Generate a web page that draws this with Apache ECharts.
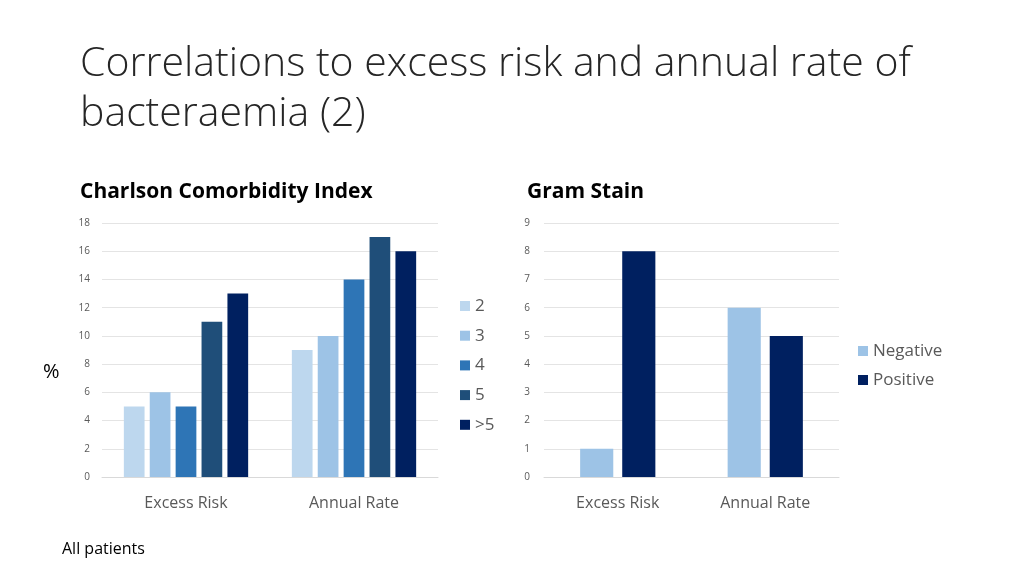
<!DOCTYPE html>
<html>
<head>
<meta charset="utf-8">
<script src="https://cdn.jsdelivr.net/npm/echarts@6/dist/echarts.min.js"></script>
<style>
  html, body { margin: 0; padding: 0; background: #fff; }
  #main { width: 1024px; height: 576px; }
</style>
</head>
<body>
<div id="main"></div>
<script>
var categories = ['Excess Risk', 'Annual Rate'];
var cciNames = ['2', '3', '4', '5', '>5'];
var cci2 = [5, 9];
var cci3 = [6, 10];
var cci4 = [5, 14];
var cci5 = [11, 17];
var cciOver5 = [13, 16];
var gramNames = ['Negative', 'Positive'];
var gramNeg = [1, 6];
var gramPos = [8, 5];

(function(){
    var myChart = echarts.init(document.getElementById('main'));
    var font = '"Open Sans", "Noto Sans", sans-serif';
    var cciColors = ['#BDD7EE', '#9DC3E6', '#2E75B6', '#1F4E79', '#002060'];
    var gramColors = ['#9DC3E6', '#002060'];
    var cciData = [cci2, cci3, cci4, cci5, cciOver5];
    var gramData = [gramNeg, gramPos];

    var series = [];
    cciData.forEach(function(d, i){
        series.push({
            name: cciNames[i], type: 'bar', xAxisIndex: 0, yAxisIndex: 0,
            data: d, barGap: '25%', barCategoryGap: '26%',
            itemStyle: { color: cciColors[i] }
        });
    });
    gramData.forEach(function(d, i){
        series.push({
            name: gramNames[i], type: 'bar', xAxisIndex: 1, yAxisIndex: 1,
            data: d, barGap: '27%', barCategoryGap: '49%',
            itemStyle: { color: gramColors[i] }
        });
    });

    function xAx(gi){
        return {
            type: 'category', gridIndex: gi, data: categories,
            axisTick: { show: false },
            axisLine: { lineStyle: { color: '#D9D9D9' } },
            axisLabel: { color: '#595959', fontSize: 16, fontFamily: font, margin: 18 }
        };
    }
    function yAx(gi, max, margin){
        return {
            type: 'value', gridIndex: gi, min: 0, max: max, interval: gi === 0 ? 2 : 1,
            axisLine: { show: false }, axisTick: { show: false },
            splitLine: { lineStyle: { color: '#E4E4E4' } },
            axisLabel: { color: '#595959', fontSize: 10, fontFamily: font, margin: margin }
        };
    }

    var option = {
        animation: false,
        title: [
            { text: 'Correlations to excess risk and annual rate of\nbacteraemia (2)', left: 75, top: 34,
              textStyle: { fontFamily: font, fontWeight: 300, fontSize: 41, lineHeight: 50, color: '#262626' } },
            { text: 'Charlson Comorbidity Index', left: 75, top: 177,
              textStyle: { fontFamily: font, fontWeight: 'bold', fontSize: 21, color: '#000' } },
            { text: 'Gram Stain', left: 522, top: 177,
              textStyle: { fontFamily: font, fontWeight: 'bold', fontSize: 21, color: '#000' } },
            { text: '%', left: 38, top: 357,
              textStyle: { fontFamily: font, fontWeight: 'normal', fontSize: 20, color: '#000' } },
            { text: 'All patients', left: 57, top: 536,
              textStyle: { fontFamily: font, fontWeight: 'normal', fontSize: 16, color: '#000' } }
        ],
        grid: [
            { left: 102, right: 586, top: 223, bottom: 99 },
            { left: 544, right: 185, top: 223, bottom: 99 }
        ],
        xAxis: [xAx(0), xAx(1)],
        yAxis: [yAx(0, 18, 12), yAx(1, 9, 14)],
        legend: [
            { data: cciNames, orient: 'vertical', left: 455, top: 292,
              itemWidth: 10, itemHeight: 10, itemGap: 11.7, icon: 'rect',
              textStyle: { color: '#595959', fontSize: 17, lineHeight: 18, fontFamily: font } },
            { data: gramNames, orient: 'vertical', left: 853, top: 337,
              itemWidth: 10, itemHeight: 10, itemGap: 11, icon: 'rect',
              textStyle: { color: '#595959', fontSize: 17, lineHeight: 18, fontFamily: font } }
        ],
        series: series
    };
    myChart.setOption(option);
})();
</script>
</body>
</html>
